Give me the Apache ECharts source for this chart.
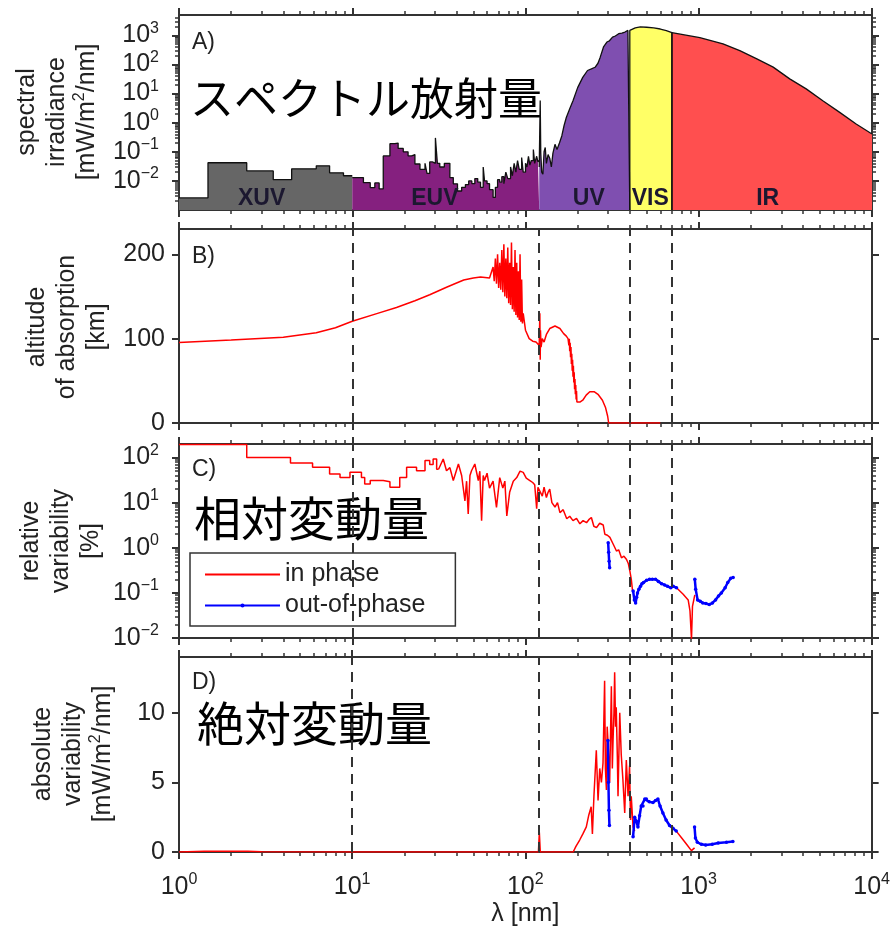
<!DOCTYPE html>
<html>
<head>
<meta charset="utf-8">
<script src="https://cdn.jsdelivr.net/npm/echarts@6/dist/echarts.min.js"></script>
<style>
  html, body { margin: 0; padding: 0; background: #fff; }
  #app { width: 893px; height: 934px; }
</style>
</head>
<body>
<div id="app"></div>
<script>
// ---- tick values ----
const lambdaTicks = [1, 10, 100, 1000, 10000];
const irrTicks = [0.01, 0.1, 1, 10, 100, 1000];
const altTicks = [0, 100, 200];
const relTicks = [0.01, 0.1, 1, 10, 100];
const absTicks = [0, 5, 10];

// ---- spectral bands (panel A) ----
const bandNames = ['XUV', 'EUV', 'UV', 'VIS', 'IR'];
const bandLabelAt = [[3, 0.0024], [30, 0.0024], [232, 0.0024], [525, 0.0024], [2500, 0.0024]];
const bandEdges = [10, 120, 400, 700];

// [wavelength nm, irradiance mW/m2/nm]
const xuvIrr = [[1, 0.0026], [1.47, 0.042], [2.46, 0.022], [3.5, 0.011], [4.47, 0.026], [6.2, 0.033],
  [7.4, 0.019], [8.9, 0.015], [10, 0.015]];
const euvIrr = [[10, 0.013], [11.6, 0.0087], [12.7, 0.0059], [13.5, 0.0085], [14.3, 0.0053], [15.1, 0.072],
  [16.5, 0.19], [17.6, 0.2], [18.4, 0.13], [19.7, 0.1], [21, 0.072], [22, 0.08], [23, 0.038], [24.6, 0.025],
  [26.3, 0.04], [27, 0.018], [28, 0.045], [29, 0.04], [30.2, 0.3], [31, 0.04], [32, 0.03], [34, 0.04],
  [36.6, 0.013], [38.3, 0.0079], [40.5, 0.0045], [42.8, 0.006], [45, 0.0075], [47, 0.01], [49, 0.008],
  [51, 0.012], [53, 0.009], [55, 0.006], [57, 0.03], [58, 0.01], [60, 0.008], [62, 0.005], [65, 0.0027],
  [67, 0.006], [69, 0.011], [71, 0.009], [73, 0.014], [75, 0.008], [77, 0.02], [79, 0.012], [82, 0.03],
  [84, 0.015], [86, 0.04], [88, 0.02], [90, 0.05], [92, 0.025], [95, 0.063], [97, 0.02], [100, 0.04],
  [102, 0.03], [104, 0.07], [106, 0.035], [108, 0.05], [111, 0.12], [113, 0.04], [116, 0.07], [118, 0.045],
  [120, 0.05]];
const uvIrr = [[120, 0.03], [121.6, 5.8], [122.5, 0.09], [124, 0.02], [126, 0.017], [128, 0.1], [130, 0.14],
  [132, 0.04], [135, 0.08], [138, 0.06], [141, 0.03], [144, 0.09], [148, 0.18], [152, 0.12], [157, 0.2],
  [162, 0.35], [167, 0.8], [172, 1.5], [180, 3], [188, 5.7], [200, 16], [214, 36], [228, 62], [240, 70],
  [252, 80], [262, 110], [270, 178], [282, 400], [295, 590], [305, 650], [318, 870], [330, 950], [345, 1140],
  [360, 1200], [375, 1300], [390, 1480], [400, 1480], [400, 0.001]];
const visIrr = [[400, 0.001], [400, 1480], [430, 1800], [460, 1950], [500, 1900], [550, 1800], [600, 1650],
  [650, 1450], [700, 1230], [700, 0.001]];
const irIrr = [[700, 0.001], [700, 1230], [1015, 830], [1380, 510], [1725, 300], [2150, 158], [2690, 81],
  [3350, 32], [4170, 14.5], [5200, 5.7], [6480, 2.3], [8100, 0.9], [10000, 0.41]];

// ---- panel B: altitude of absorption [km] ----
const altitude = [[1, 95.5], [2, 98.4], [4, 101.6], [6.2, 107], [8, 113], [10, 120.6], [14, 130], [18, 137],
  [23, 145], [28, 152], [35, 161], [40, 166], [44, 169.5], [50, 172], [55, 173], [62, 172], [65, 185], [66, 168],
  [67, 195], [68, 165], [69, 200], [70, 160], [71, 190], [72, 158], [73, 205], [74, 155], [75, 212], [76, 150],
  [77, 195], [78, 148], [79, 208], [80, 142], [81, 190], [82, 140], [83, 214], [84, 135], [85, 185], [86, 132],
  [87, 205], [88, 128], [89, 190], [90, 125], [91, 180], [92, 122], [93, 200], [94, 120], [95, 170], [96, 118],
  [97, 130], [100, 110], [105, 100], [110, 97], [115, 96], [118, 98], [120, 92], [121, 130], [121.6, 75],
  [122, 110], [123, 90], [125, 100], [128, 96], [132, 105], [138, 112], [148, 115], [158, 112], [166, 106],
  [172, 103], [176, 100], [178, 92], [179, 100], [180, 85], [181, 95], [182, 78], [183, 90], [184, 70],
  [185, 82], [186, 62], [187, 75], [188, 55], [189, 68], [190, 48], [191, 60], [192, 40], [193, 52], [194, 34],
  [195, 45], [196, 28], [197, 38], [198, 25], [200, 26], [207, 25], [214, 27], [224, 33], [235, 37], [250, 37],
  [262, 34], [278, 27], [290, 18], [298, 8], [302, 0], [600, 0]];

// ---- panel C: relative variability [%] ----
const relInStep = [[1, 195], [2.46, 100], [4.4, 76], [5.9, 61], [7.4, 43], [8.5, 36], [9.7, 47], [11.3, 36],
  [11.8, 26], [12.7, 31], [15.1, 29], [16.5, 22], [18.8, 36], [20.6, 61], [23.5, 51], [26.3, 86], [28, 70],
  [29.3, 93], [30.7, 55], [31.5, 55]];
const relIn = [[31.5, 55], [33.5, 93], [35, 51], [36.6, 60], [38.3, 31], [41, 72], [42.8, 40], [44.7, 11],
  [45.7, 30], [46.7, 5.6], [47.8, 40], [48.8, 51], [51, 72], [53.4, 31], [54.5, 50], [55.8, 4], [57, 40],
  [58, 31], [60, 45], [62, 21], [65, 30], [68, 7.9], [71, 36], [74, 21], [76, 30], [78, 5.1], [81, 17],
  [85, 30], [89, 36], [93, 50], [97, 47], [101, 35], [106, 31], [110, 28], [113, 25], [116, 7.4], [118, 22],
  [121, 20], [125, 14], [128, 22], [132, 13], [135, 17], [138, 20], [142, 10], [148, 8], [153, 10], [158, 6],
  [165, 7], [173, 4.4], [180, 5], [188, 4], [197, 4.5], [206, 3.4], [215, 4], [225, 3.6], [232, 4.2],
  [240, 4.7], [248, 3], [257, 2.8], [268, 3.5], [281, 3.2], [287, 2], [297, 1.9], [307, 1.7], [321, 1.2],
  [335, 0.85], [345, 0.9], [358, 0.6], [370, 0.65], [383, 0.55], [392, 0.45], [400, 0.31], [408, 0.2],
  [415, 0.11], [600, null], [744, 0.13], [813, 0.093], [869, 0.07], [890, 0.04], [908, 0.0093], [920, 0.05],
  [949, 0.09]];
const relOut = [[300, 1.3], [302, 0.8], [304, 0.5], [306, 0.36], [350, null], [418, 0.11], [425, 0.07],
  [432, 0.06], [438, 0.08], [443, 0.1], [451, 0.12], [461, 0.14], [470, 0.16], [480, 0.17], [500, 0.19],
  [520, 0.2], [540, 0.2], [563, 0.2], [585, 0.18], [610, 0.16], [635, 0.15], [660, 0.14], [690, 0.13],
  [712, 0.14], [744, 0.13], [850, null], [949, 0.2], [960, 0.12], [985, 0.07], [1020, 0.065], [1055, 0.06],
  [1100, 0.058], [1150, 0.055], [1200, 0.06], [1250, 0.07], [1300, 0.085], [1350, 0.1], [1420, 0.13],
  [1470, 0.17], [1530, 0.21], [1580, 0.22]];

// ---- panel D: absolute variability [mW/m2/nm] ----
const absIn = [[1, 0], [1.4, 0.05], [2.5, 0.05], [3, 0.01], [10, 0], [100, 0], [119, 0], [120.5, 1.4],
  [122, 0], [189, 0], [196, 0.4], [206, 0.86], [215, 1.3], [225, 1.8], [232, 2.6], [240, 3.25], [244, 1.3],
  [249, 4], [257, 7.3], [263, 3.7], [269, 6], [275, 5], [281, 6.4], [287, 12.3], [290, 6], [294, 4.45],
  [297, 9], [300, 8], [307, 5], [314, 11.9], [318, 6], [321, 8], [325, 10], [328, 12.9], [332, 9],
  [335, 10.4], [340, 6.8], [343, 4], [351, 10], [358, 7], [366, 5.2], [375, 2.8], [383, 6.6], [392, 4],
  [400, 6.2], [405, 2.3], [409, 4], [419, 1.8], [428, 1.5], [500, null], [744, 1.5], [800, 1.0], [860, 0.5],
  [910, 0.1], [930, 0], [949, 0.3]];
const absOut = [[300, 8], [302, 5], [304, 3], [306, 1.9], [350, null], [419, 1.1], [428, 2.5], [438, 2.2],
  [447, 1.8], [457, 2.6], [467, 3.3], [478, 3.3], [490, 3.8], [500, 3.8], [520, 3.6], [546, 3.55], [565, 3.7],
  [583, 3.8], [600, 3.3], [623, 2.8], [650, 2.3], [681, 1.9], [712, 1.7], [744, 1.5], [850, null], [949, 1.8],
  [960, 1.0], [985, 0.7], [1040, 0.55], [1100, 0.5], [1200, 0.55], [1300, 0.65], [1450, 0.7], [1580, 0.75]];

// ---- layout / style ----
const FONT = 'Liberation Sans';
const INK = '#222';
const FRAME = '#333';
const RED = '#ff0000';
const BLUE = '#0000ff';
const FS = 25;

const panelBoxes = [
  { top: 15, height: 195 },
  { top: 229, height: 194 },
  { top: 444, height: 194 },
  { top: 657, height: 195 }
];
const yScales = [
  { type: 'log', min: 0.001, max: 5000, ticks: irrTicks, margin: 20 },
  { type: 'value', min: 0, max: 230, ticks: altTicks, margin: 14 },
  { type: 'log', min: 0.01, max: 200, ticks: relTicks, margin: 20 },
  { type: 'value', min: 0, max: 14, ticks: absTicks, margin: 14 }
];

function minorTicks(lo, hi) {
  const out = [];
  for (let d = lo; d < hi; d *= 10) {
    for (let k = 2; k <= 9; k++) {
      const v = +(d * k).toPrecision(6);
      if (v < hi) out.push(v);
    }
  }
  return out;
}
const xMinor = minorTicks(1, 10000);

function powLabel(v) {
  const e = Math.round(Math.log10(v));
  return '{b|10}{s|' + (e < 0 ? '\u2212' + (-e) : e) + '}';
}
const powRich = {
  b: { fontSize: FS, lineHeight: 30, fontFamily: FONT, color: INK },
  s: { fontSize: 16, lineHeight: 16, verticalAlign: 'top', fontFamily: FONT, color: INK }
};

function xAx(gi, pos, minor, label) {
  const ax = {
    gridIndex: gi, type: 'log', logBase: 10, min: 1, max: 10000, position: pos,
    splitLine: { show: false },
    axisLine: { show: !minor, onZero: false, lineStyle: { color: FRAME, width: 2 } },
    axisTick: {
      show: true, inside: false, customValues: minor ? xMinor : lambdaTicks,
      length: minor ? 4 : 7, lineStyle: { color: FRAME, width: minor ? 1.5 : 2 }
    },
    axisLabel: { show: false }
  };
  if (label) {
    ax.axisLabel = { show: true, customValues: lambdaTicks, formatter: powLabel, rich: powRich, margin: 20 };
    ax.name = '\u03bb [nm]';
    ax.nameLocation = 'middle';
    ax.nameGap = 50;
    ax.nameTextStyle = { fontSize: FS, color: INK, fontFamily: FONT };
  }
  return ax;
}

function yAx(gi, pos, s, minor, label) {
  const isLog = s.type === 'log';
  const ax = {
    gridIndex: gi, type: s.type, min: s.min, max: s.max, position: pos,
    splitLine: { show: false },
    axisLine: { show: !minor, onZero: false, lineStyle: { color: FRAME, width: 2 } },
    axisTick: {
      show: !minor || isLog, inside: false,
      customValues: minor ? (isLog ? minorTicks(s.min, s.max) : []) : s.ticks,
      length: minor ? 4 : 7, lineStyle: { color: FRAME, width: minor ? 1.5 : 2 }
    },
    axisLabel: { show: false }
  };
  if (isLog) ax.logBase = 10;
  if (label) {
    ax.axisLabel = isLog
      ? { show: true, customValues: s.ticks, formatter: powLabel, rich: powRich, margin: s.margin }
      : { show: true, customValues: s.ticks, fontSize: FS, color: INK, fontFamily: FONT, margin: s.margin };
  }
  return ax;
}

const grid = [], xAxis = [], yAxis = [];
panelBoxes.forEach(b => grid.push({ left: 179, width: 693, top: b.top, height: b.height, show: false }));
panelBoxes.forEach(b => grid.push({ left: 179, width: 693, top: b.top, height: b.height, show: false }));
panelBoxes.forEach((b, i) => {
  xAxis.push(xAx(i, 'bottom', false, i === 3), xAx(i, 'top', false, false));
  yAxis.push(yAx(i, 'left', yScales[i], false, true), yAx(i, 'right', yScales[i], false, false));
});
panelBoxes.forEach((b, i) => {
  xAxis.push(xAx(4 + i, 'bottom', true, false), xAx(4 + i, 'top', true, false));
  yAxis.push(yAx(4 + i, 'left', yScales[i], true, false), yAx(4 + i, 'right', yScales[i], true, false));
});

const dashed = {
  silent: true, symbol: 'none', label: { show: false },
  lineStyle: { color: FRAME, width: 2, type: [10, 7] },
  data: bandEdges.map(v => ({ xAxis: v }))
};

function band(data, color, step) {
  return {
    type: 'line', xAxisIndex: 0, yAxisIndex: 0, data: data, step: step || false,
    symbol: 'none', silent: true,
    lineStyle: { color: '#111', width: 1.3 },
    areaStyle: { color: color, opacity: 1, origin: 'start' }
  };
}
function redLine(p, data, name, step, marks) {
  const s = {
    type: 'line', name: name, xAxisIndex: 2 * p, yAxisIndex: 2 * p, data: data,
    step: step || false, symbol: 'none', silent: true, connectNulls: false,
    lineStyle: { color: RED, width: 1.5 }, itemStyle: { color: RED }
  };
  if (marks) s.markLine = dashed;
  return s;
}
function blueLine(p, data) {
  return {
    type: 'line', name: 'out-of-phase', xAxisIndex: 2 * p, yAxisIndex: 2 * p, data: data,
    symbol: 'circle', symbolSize: 3.5, showSymbol: true, showAllSymbol: true, silent: true,
    connectNulls: false,
    lineStyle: { color: BLUE, width: 2.5 }, itemStyle: { color: BLUE }
  };
}

const series = [
  band(xuvIrr, '#666666', 'end'),
  band(euvIrr, '#85207f', 'end'),
  band(uvIrr, '#7f4fb0'),
  band(visIrr, '#ffff66'),
  band(irIrr, '#ff4f4f'),
  {
    type: 'scatter', xAxisIndex: 0, yAxisIndex: 0, symbolSize: 1, silent: true, z: 5,
    itemStyle: { color: 'rgba(0,0,0,0)' },
    data: bandNames.map((n, i) => ({ name: n, value: bandLabelAt[i] })),
    label: {
      show: true, position: 'inside', formatter: '{b}', fontSize: 23, fontWeight: 'bold',
      color: '#1c1830', opacity: 1, textBorderWidth: 0, fontFamily: FONT
    }
  },
  redLine(1, altitude, null, false, true),
  redLine(2, relInStep, 'in phase', 'end', false),
  redLine(2, relIn, 'in phase', false, true),
  blueLine(2, relOut),
  redLine(3, absIn, 'in phase', false, true),
  blueLine(3, absOut)
];

const supRich = { s: { fontSize: 16, lineHeight: 16, verticalAlign: 'top', fontFamily: FONT, fill: INK } };
function yTitle(x, y, text) {
  return {
    type: 'text', x: x, y: y, rotation: Math.PI / 2, silent: true,
    style: {
      text: text, fontSize: FS, fontFamily: FONT, fill: INK, lineHeight: 30,
      align: 'center', verticalAlign: 'middle', rich: supRich
    }
  };
}
function tag(x, y, text, size, family, fill) {
  return {
    type: 'text', x: x, y: y, silent: true,
    style: { text: text, fontSize: size, fontFamily: family, fill: fill, align: 'left', verticalAlign: 'middle' }
  };
}

const graphic = [
  yTitle(57, 112, 'spectral\nirradiance\n[mW/m{s|2}/nm]'),
  yTitle(67, 327, 'altitude\nof absorption\n[km]'),
  yTitle(61, 541, 'relative\nvariability\n[%]'),
  yTitle(73, 754, 'absolute\nvariability\n[mW/m{s|2}/nm]'),
  tag(192, 43, 'A)', 23, FONT, INK),
  tag(192, 257, 'B)', 23, FONT, INK),
  tag(192, 470, 'C)', 23, FONT, INK),
  tag(192, 683, 'D)', 23, FONT, INK),
  tag(190, 98, 'スペクトル放射量', 44, 'Noto Sans CJK JP', '#000'),
  tag(194, 518, '相対変動量', 47, 'Noto Sans CJK JP', '#000'),
  tag(197, 723, '絶対変動量', 47, 'Noto Sans CJK JP', '#000')
];

const chart = echarts.init(document.getElementById('app'));
chart.setOption({
  backgroundColor: '#fff',
  animation: false,
  textStyle: { fontFamily: FONT },
  grid: grid,
  xAxis: xAxis,
  yAxis: yAxis,
  legend: {
    data: [{ name: 'in phase', itemStyle: { opacity: 0 } }, { name: 'out-of-phase' }],
    orient: 'vertical', left: 190, top: 553,
    itemWidth: 75, itemHeight: 5, itemGap: 6,
    padding: [9, 30, 8, 14],
    borderColor: FRAME, borderWidth: 1.5, backgroundColor: '#fff',
    selectedMode: false,
    textStyle: { fontSize: FS, color: INK, fontFamily: FONT }
  },
  series: series,
  graphic: graphic
});
</script>
</body>
</html>
